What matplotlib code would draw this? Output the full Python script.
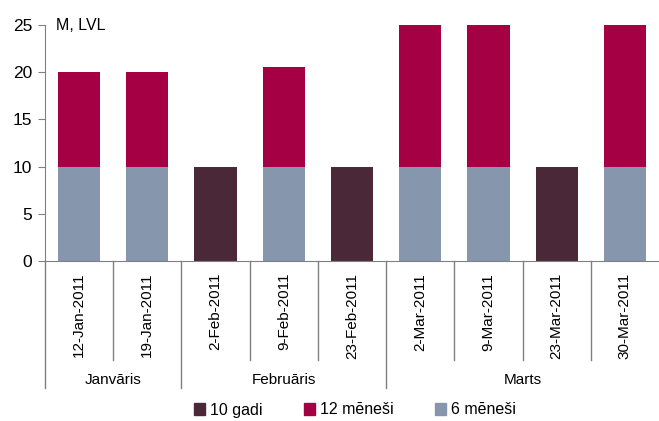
import matplotlib
matplotlib.use("Agg")
import matplotlib.pyplot as plt
import numpy as np
from matplotlib.patches import Patch

plt.rcParams['font.family'] = ['Liberation Sans', 'DejaVu Sans']

dates = ["12-Jan-2011", "19-Jan-2011", "2-Feb-2011", "9-Feb-2011", "23-Feb-2011",
         "2-Mar-2011", "9-Mar-2011", "23-Mar-2011", "30-Mar-2011"]
months = ["Janvāris", "Februāris", "Marts"]
month_counts = [2, 3, 4]
gadi10 = [0, 0, 10, 0, 10, 0, 0, 10, 0]
men6 = [10, 10, 0, 10, 0, 10, 10, 0, 10]
men12 = [10, 10, 0, 10.5, 0, 15, 15, 0, 15]
yticks = [0, 5, 10, 15, 20, 25]

c10 = "#4B2838"
c12 = "#A50044"
c6 = "#8696AD"

fig = plt.figure(figsize=(6.59, 4.21), dpi=100)
ax = fig.add_axes([45/659, (421-261)/421, 1 - 45/659, (261-25)/421])

x = np.arange(len(dates))
w = 0.62
ax.bar(x, gadi10, w, color=c10, label="10 gadi")
ax.bar(x, men6, w, color=c6, label="6 mēneši")
ax.bar(x, men12, w, bottom=men6, color=c12, label="12 mēneši")

ax.set_xlim(-0.5, len(dates) - 0.5)
ax.set_ylim(0, 25)
ax.set_yticks(yticks)
ax.tick_params(axis='y', labelsize=12.5, length=5, color='#808080', pad=4)
ax.set_xticks([])
for s in ['top', 'right']:
    ax.spines[s].set_visible(False)
for s in ['left', 'bottom']:
    ax.spines[s].set_color('#808080')

tr = ax.get_xaxis_transform()
for i, d in enumerate(dates):
    ax.text(i, -0.05, d, rotation=90, ha='center', va='top', fontsize=11,
            transform=tr)

# separators
inner_bottom = -0.42
outer_bottom = -0.538
bounds = np.cumsum([0] + month_counts) - 0.5
for b in np.arange(-0.5, len(dates) - 0.5, 1.0):
    if np.any(np.isclose(b, bounds)):
        y0 = outer_bottom
    else:
        y0 = inner_bottom
    ax.plot([b, b], [0, y0], color='#808080', lw=1, transform=tr, clip_on=False)

for j, m in enumerate(months):
    center = (bounds[j] + bounds[j + 1]) / 2
    ax.text(center, -0.505, m, ha='center', va='center', fontsize=11, transform=tr)

ax.text(0.018, 1.0, "M, LVL", transform=ax.transAxes, ha='left', va='center', fontsize=11.5)

handles = [Patch(color=c10, label="10 gadi"), Patch(color=c12, label="12 mēneši"),
           Patch(color=c6, label="6 mēneši")]
fig.legend(handles=handles, loc='center', bbox_to_anchor=(355/659, 1 - 410/421), ncol=3,
           frameon=False, fontsize=11.5, handlelength=0.7, handleheight=0.7,
           handletextpad=0.3, columnspacing=2.6)

fig.savefig("out.png", dpi=100)
